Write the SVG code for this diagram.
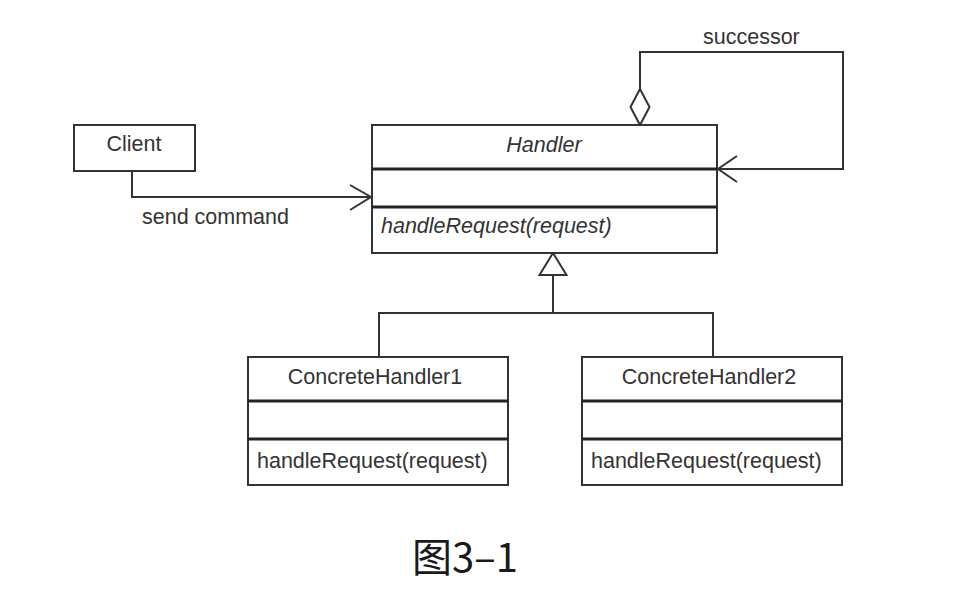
<svg xmlns="http://www.w3.org/2000/svg" width="966" height="598" viewBox="0 0 966 598">
<style>
  .box { fill: #fff; stroke: #333; stroke-width: 2; }
  .div { stroke: #222; stroke-width: 3; }
  .ln { fill: none; stroke: #333; stroke-width: 2; }
  .t { font-family: "Liberation Sans", Arial, sans-serif; font-size: 21.5px; fill: #333; }
  .c { text-anchor: middle; }
  .i { font-style: italic; }
  .cap { font-family: "Noto Sans CJK SC", "Noto Sans", sans-serif; font-size: 40px; fill: #1a1a1a; }
</style>
<rect width="966" height="598" fill="#fff"/>
<g id="connectors">
  <path class="ln" d="M132 171 V197 H371"/>
  <path class="ln" d="M350 185 L371 197 L350 210"/>
  <path class="ln" d="M640 89 V52 H843 V169 H718"/>
  <path class="ln" d="M737 156 L718 169 L737 182"/>
  <polygon points="640,89 649.5,107 640,125 630.5,107" fill="#fff" stroke="#333" stroke-width="2"/>
  <path class="ln" d="M553 274 V313 M379 357 V313 H713 V357"/>
  <polygon points="553,253 566.5,275 539.5,275" fill="#fff" stroke="#333" stroke-width="2"/>
  <text class="t" x="142" y="224">send command</text>
  <text class="t" x="703" y="44">successor</text>
</g>
<g id="client">
  <rect class="box" x="74" y="125" width="121" height="46"/>
  <text class="t c" x="134" y="151">Client</text>
</g>
<g id="handler">
  <rect class="box" x="372" y="125" width="345" height="128"/>
  <line class="div" x1="372" y1="169" x2="717" y2="169"/>
  <line class="div" x1="372" y1="207" x2="717" y2="207"/>
  <text class="t c i" x="544" y="152">Handler</text>
  <text class="t i" x="381" y="233">handleRequest(request)</text>
</g>
<g id="concreteHandler1">
  <rect class="box" x="248" y="357" width="260" height="128"/>
  <line class="div" x1="248" y1="401" x2="508" y2="401"/>
  <line class="div" x1="248" y1="439" x2="508" y2="439"/>
  <text class="t c" x="375" y="384">ConcreteHandler1</text>
  <text class="t" x="257" y="468">handleRequest(request)</text>
</g>
<g id="concreteHandler2">
  <rect class="box" x="582" y="357" width="260" height="128"/>
  <line class="div" x1="582" y1="401" x2="842" y2="401"/>
  <line class="div" x1="582" y1="439" x2="842" y2="439"/>
  <text class="t c" x="709" y="384">ConcreteHandler2</text>
  <text class="t" x="591" y="468">handleRequest(request)</text>
</g>
<g id="caption">
  <text class="cap" x="412" y="572">图3–1</text>
</g>
</svg>
